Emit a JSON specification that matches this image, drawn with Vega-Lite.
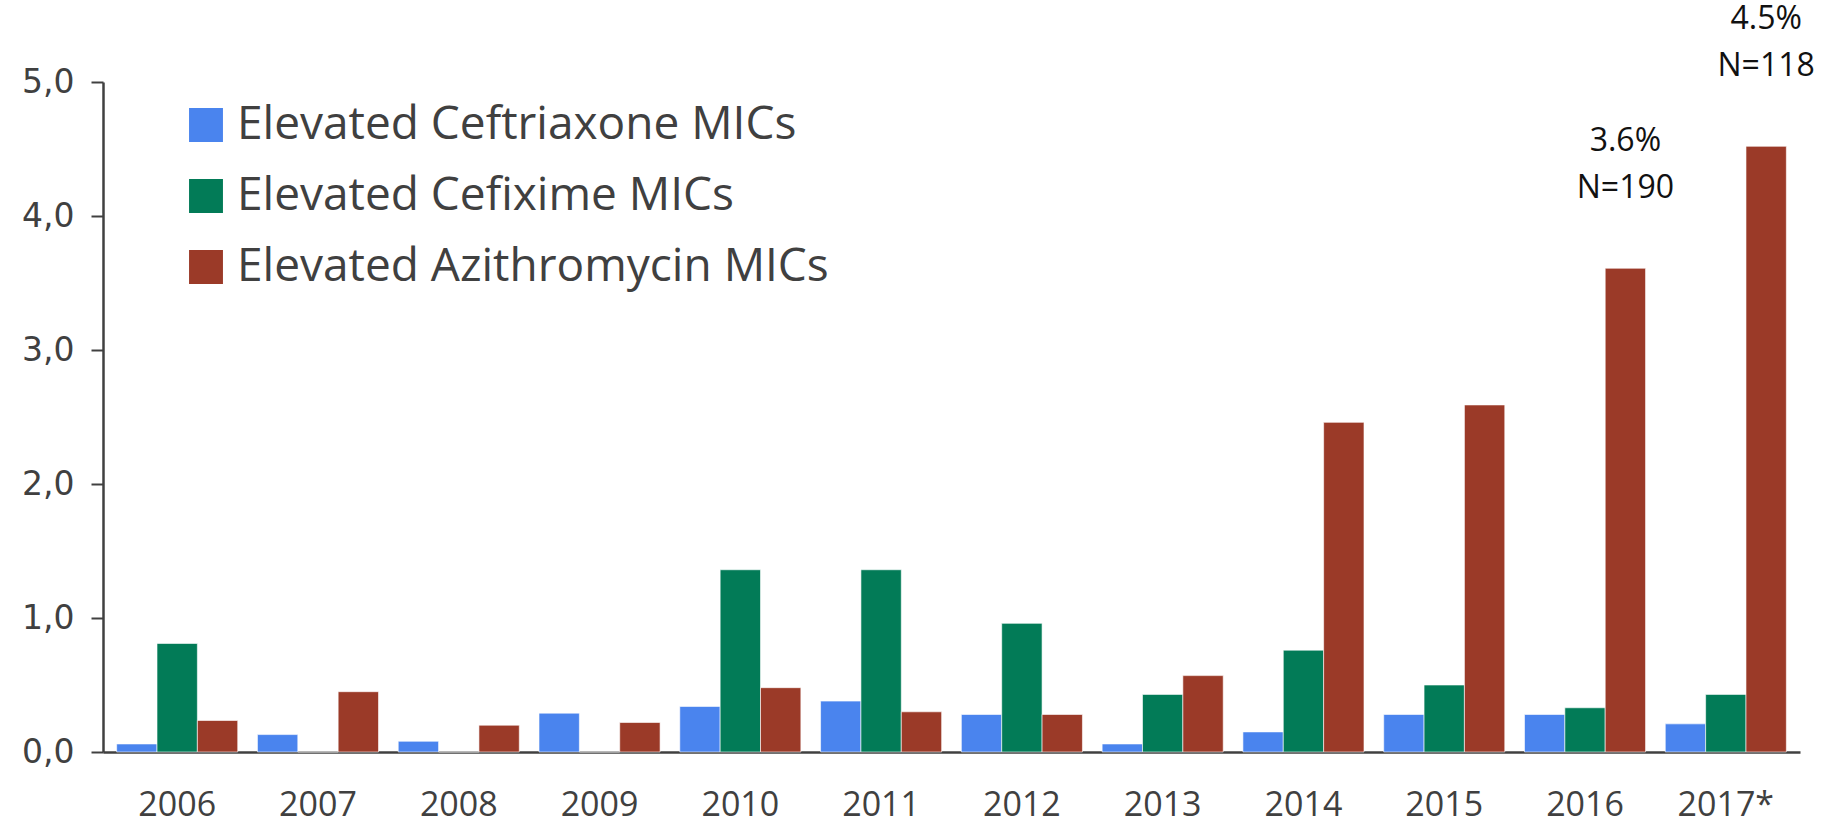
{
  "$schema": "https://vega.github.io/schema/vega-lite/v6.json",
  "width": 1697,
  "height": 670,
  "autosize": {"type": "none"},
  "padding": {"left": 103, "top": 82, "right": 29, "bottom": 67},
  "background": "white",
  "config": {"view": {"stroke": null}},
  "data": {"values": [
    {"year": "2006", "series": "Elevated Ceftriaxone MICs", "value": 0.06},
    {"year": "2006", "series": "Elevated Cefixime MICs", "value": 0.81},
    {"year": "2006", "series": "Elevated Azithromycin MICs", "value": 0.235},
    {"year": "2007", "series": "Elevated Ceftriaxone MICs", "value": 0.13},
    {"year": "2007", "series": "Elevated Cefixime MICs", "value": 0},
    {"year": "2007", "series": "Elevated Azithromycin MICs", "value": 0.45},
    {"year": "2008", "series": "Elevated Ceftriaxone MICs", "value": 0.08},
    {"year": "2008", "series": "Elevated Cefixime MICs", "value": 0},
    {"year": "2008", "series": "Elevated Azithromycin MICs", "value": 0.2},
    {"year": "2009", "series": "Elevated Ceftriaxone MICs", "value": 0.29},
    {"year": "2009", "series": "Elevated Cefixime MICs", "value": 0},
    {"year": "2009", "series": "Elevated Azithromycin MICs", "value": 0.22},
    {"year": "2010", "series": "Elevated Ceftriaxone MICs", "value": 0.34},
    {"year": "2010", "series": "Elevated Cefixime MICs", "value": 1.36},
    {"year": "2010", "series": "Elevated Azithromycin MICs", "value": 0.48},
    {"year": "2011", "series": "Elevated Ceftriaxone MICs", "value": 0.38},
    {"year": "2011", "series": "Elevated Cefixime MICs", "value": 1.36},
    {"year": "2011", "series": "Elevated Azithromycin MICs", "value": 0.3},
    {"year": "2012", "series": "Elevated Ceftriaxone MICs", "value": 0.28},
    {"year": "2012", "series": "Elevated Cefixime MICs", "value": 0.96},
    {"year": "2012", "series": "Elevated Azithromycin MICs", "value": 0.28},
    {"year": "2013", "series": "Elevated Ceftriaxone MICs", "value": 0.06},
    {"year": "2013", "series": "Elevated Cefixime MICs", "value": 0.43},
    {"year": "2013", "series": "Elevated Azithromycin MICs", "value": 0.57},
    {"year": "2014", "series": "Elevated Ceftriaxone MICs", "value": 0.15},
    {"year": "2014", "series": "Elevated Cefixime MICs", "value": 0.76},
    {"year": "2014", "series": "Elevated Azithromycin MICs", "value": 2.46},
    {"year": "2015", "series": "Elevated Ceftriaxone MICs", "value": 0.28},
    {"year": "2015", "series": "Elevated Cefixime MICs", "value": 0.5},
    {"year": "2015", "series": "Elevated Azithromycin MICs", "value": 2.59},
    {"year": "2016", "series": "Elevated Ceftriaxone MICs", "value": 0.28},
    {"year": "2016", "series": "Elevated Cefixime MICs", "value": 0.33},
    {"year": "2016", "series": "Elevated Azithromycin MICs", "value": 3.61, "note": "3.6%|N=190"},
    {"year": "2017*", "series": "Elevated Ceftriaxone MICs", "value": 0.21},
    {"year": "2017*", "series": "Elevated Cefixime MICs", "value": 0.43},
    {"year": "2017*", "series": "Elevated Azithromycin MICs", "value": 4.52, "note": "4.5%|N=118"}
  ]},
  "encoding": {
    "x": {
      "field": "year", "type": "nominal", "sort": null,
      "scale": {"paddingInner": 0.14, "paddingOuter": 0.097},
      "axis": {
        "title": null, "labelAngle": 0, "ticks": false,
        "domainColor": "#404040", "domainWidth": 2.5,
        "labelFont": "Open Sans", "labelFontSize": 34, "labelColor": "#404040",
        "labelPadding": 36
      }
    },
    "xOffset": {
      "field": "series", "type": "nominal",
      "sort": ["Elevated Ceftriaxone MICs", "Elevated Cefixime MICs", "Elevated Azithromycin MICs"],
      "scale": {"paddingInner": 0, "paddingOuter": 0}
    },
    "y": {
      "field": "value", "type": "quantitative",
      "scale": {"domain": [0, 5], "nice": false},
      "axis": {
        "title": null, "grid": false, "values": [0, 1, 2, 3, 4, 5],
        "labelExpr": "replace(format(datum.value, '.1f'), '.', ',')",
        "domainColor": "#404040", "domainWidth": 2.5,
        "tickColor": "#404040", "tickWidth": 2, "tickSize": 12,
        "labelFont": "DejaVu Sans", "labelFontSize": 33, "labelColor": "#404040",
        "labelPadding": 17
      }
    }
  },
  "layer": [
    {
      "mark": {"type": "bar", "stroke": "white", "strokeWidth": 1, "strokeOpacity": 0.6},
      "encoding": {
        "color": {
          "field": "series", "type": "nominal",
          "scale": {
            "domain": ["Elevated Ceftriaxone MICs", "Elevated Cefixime MICs", "Elevated Azithromycin MICs"],
            "range": ["#4a84ee", "#027b57", "#9b3a28"]
          },
          "legend": {
            "title": null, "orient": "none", "legendX": 80, "legendY": 20,
            "symbolType": "square", "symbolSize": 1150, "symbolStrokeWidth": 0,
            "symbolOpacity": 1,
            "labelFont": "Open Sans", "labelFontSize": 46, "labelColor": "#404040",
            "labelOffset": 8, "rowPadding": 25, "labelLimit": 1000
          }
        }
      }
    },
    {
      "transform": [{"filter": "datum.note != null"}],
      "mark": {
        "type": "text", "font": "Open Sans", "fontSize": 32, "color": "#111111",
        "baseline": "bottom", "align": "center", "dy": -110, "lineHeight": 47,
        "lineBreak": "|"
      },
      "encoding": {
        "text": {"field": "note", "type": "nominal"}
      }
    }
  ]
}
